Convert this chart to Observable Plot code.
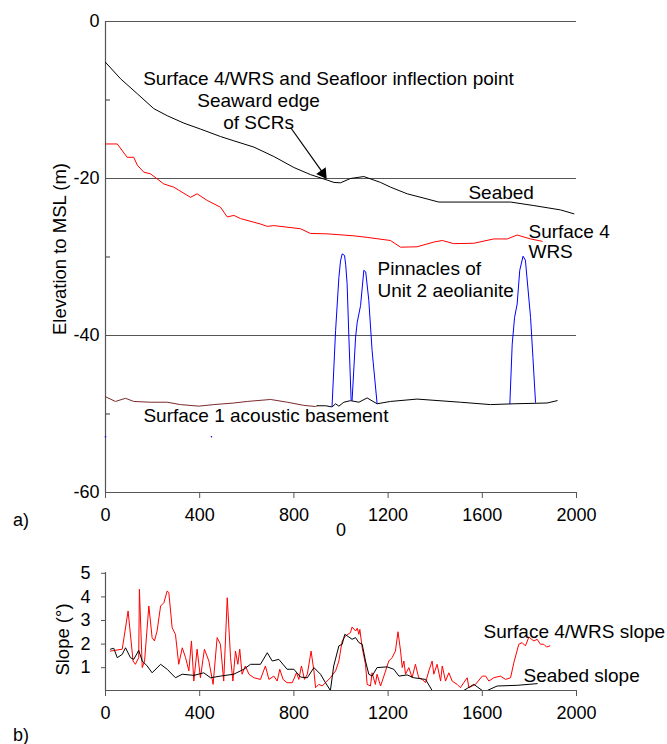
<!DOCTYPE html>
<html>
<head>
<meta charset="utf-8">
<script src="https://cdn.jsdelivr.net/npm/d3@7"></script>
<script src="https://cdn.jsdelivr.net/npm/@observablehq/plot@0.6"></script>
<style>
  body { margin: 0; background: #fff; }
  #wrap { position: relative; width: 667px; height: 744px; font-family: "Liberation Sans", Arial, sans-serif; }
  #wrap svg { display: block; position: absolute; left: 0; }
  .tag { position: absolute; left: 13px; font-size: 18px; line-height: 20px; color: #000; }
</style>
</head>
<body>
<div id="wrap"></div>
<script>
// ---------- Panel a: elevation profiles ----------
const xTicks = [0, 400, 800, 1200, 1600, 2000];
const yTicksA = [0, -20, -40, -60];
const yMinorA = [-10, -30, -50];
const gridA = [0, -20, -40, -60];

const seabedX = [0, 64, 135, 205, 262, 333, 403, 488, 545, 630, 715, 800, 870, 941, 970, 998, 1040, 1097, 1168, 1210, 1281, 1352, 1415, 1720, 1819, 1932, 1989];
const seabedY = [-5.2, -7.3, -9.2, -11.1, -12.0, -12.95, -13.7, -14.65, -15.2, -16.0, -17.2, -18.6, -19.5, -20.2, -20.5, -20.55, -20.0, -19.75, -20.5, -21.1, -21.95, -22.5, -23.0, -23.0, -23.45, -24.0, -24.5];

const surface4X = [0, 50, 92, 120, 135, 163, 191, 248, 290, 361, 389, 432, 488, 517, 545, 573, 658, 687, 715, 828, 870, 941, 1054, 1111, 1210, 1253, 1323, 1394, 1430, 1479, 1564, 1649, 1706, 1748, 1805, 1854];
const surface4Y = [-15.6, -15.6, -17.3, -17.3, -18.3, -19.2, -19.4, -20.7, -21.1, -22.4, -21.95, -22.8, -23.65, -24.9, -24.7, -25.1, -25.8, -26.1, -26.0, -26.4, -27.0, -27.05, -27.3, -27.5, -27.9, -28.75, -28.7, -28.1, -27.9, -28.3, -28.25, -27.7, -27.7, -27.2, -27.7, -28.0];

const basementWestX = [0, 42, 85, 120, 191, 262, 318, 396, 460, 545, 602, 701, 772, 842, 892, 899];
const basementWestY = [-47.8, -48.4, -48.0, -48.4, -48.5, -48.5, -48.8, -49.0, -48.8, -48.6, -48.4, -48.15, -48.5, -48.9, -49.05, -48.95];
const basementEastX = [899, 935, 962, 977, 991, 1012, 1040, 1076, 1111, 1153, 1210, 1323, 1507, 1635, 1734, 1875, 1918];
const basementEastY = [-48.95, -48.95, -49.1, -48.7, -49.0, -48.5, -48.3, -48.5, -47.95, -48.7, -48.4, -48.1, -48.5, -48.8, -48.7, -48.6, -48.3];

const pinnacle1X = [962, 977, 991, 998, 1005, 1015, 1020, 1026, 1033, 1043];
const pinnacle1Y = [-49.0, -39.4, -32.6, -30.5, -29.6, -29.8, -31.0, -33.4, -39.8, -48.2];
const pinnacle2X = [1047, 1062, 1069, 1083, 1097, 1105, 1118, 1132, 1153];
const pinnacle2Y = [-48.3, -40.2, -38.3, -36.2, -31.7, -31.9, -35.5, -41.9, -48.6];
const pinnacle3X = [1717, 1727, 1737, 1748, 1759, 1773, 1783, 1805, 1815, 1826];
const pinnacle3Y = [-48.7, -41.1, -37.7, -36.0, -31.7, -29.9, -30.4, -37.7, -42.8, -48.5];

const strayX = [0, 450];
const strayY = [-52.9, -52.9];

const labelsACentered = [
  {text: "Surface 4/WRS and Seafloor inflection point", x: 947, y: -7.26},
  {text: "Seaward edge", x: 650, y: -10.06},
  {text: "of SCRs", x: 650, y: -12.87}
];
const labelsAStart = [
  {text: "Seabed", x: 1541, y: -21.8},
  {text: "Surface 4", x: 1796, y: -26.75},
  {text: "WRS", x: 1796, y: -29.4},
  {text: "Pinnacles of", x: 1155, y: -31.5},
  {text: "Unit 2 aeolianite", x: 1155, y: -34.3},
  {text: "Surface 1 acoustic basement", x: 161, y: -50.2}
];
const arrowFrom = {x: 786, y: -13.5};
const arrowTo = {x: 926, y: -19.4};
const arrowHead = {x: 923, y: -19.35};

// ---------- Panel b: slopes ----------
const slopeTicks = [1, 2, 3, 4, 5];

const wrsSlopeX = [21,71,96,117,127,141,144,156,166,184,198,208,219,234,248,262,269,283,297,311,326,340,354,365,375,389,403,420,439,457,474,488,502,517,531,541,552,562,570,580,594,609,630,658,679,694,715,729,740,754,771,793,811,821,832,845,857,873,885,892,906,920,934,955,977,991,1005,1019,1040,1047,1062,1069,1076,1080,1090,1104,1111,1125,1132,1146,1153,1168,1182,1203,1217,1231,1242,1253,1260,1267,1274,1288,1302,1316,1330,1345,1359,1373,1387,1394,1408,1423,1430,1444,1458,1472,1493,1507,1521,1536,1543,1557,1571,1600,1614,1628,1649,1677,1699,1720,1734,1755,1769,1783,1798,1809,1819,1833,1847,1861,1873,1887];
const wrsSlopeV = [2.17,2.25,3.87,1.75,1.61,1.89,4.79,1.47,1.75,4.08,2.74,2.6,3.02,4.08,4.22,4.72,4.64,3.16,2.88,1.61,2.31,1.89,1.33,2.6,0.9,2.25,1.04,2.25,1.75,0.76,2.74,2.46,0.9,4.43,1.89,0.9,2.17,1.61,2.25,1.19,1.54,1.19,1.04,0.97,1.54,0.97,1.11,0.9,1.4,0.97,0.83,0.83,1.25,0.97,1.54,0.97,1.19,2.17,1.33,0.62,0.76,0.69,0.83,1.04,1.33,1.75,2.6,2.81,2.95,3.19,3.02,3.14,2.88,3.09,2.31,1.61,0.76,0.69,1.25,0.76,1.19,0.69,1.11,1.75,1.89,2.17,2.99,2.17,1.47,1.75,1.19,1.47,1.04,1.61,1.04,0.97,0.83,1.33,1.75,1.19,1.61,0.9,1.54,0.9,1.25,0.9,0.76,0.62,0.83,1.04,0.62,0.69,0.76,1.11,1.11,0.9,1.04,1.11,0.97,1.04,1.68,2.46,2.53,2.39,2.77,2.67,2.6,2.67,2.46,2.46,2.34,2.39];

const seabedSlopeX = [21,35,50,71,85,106,120,141,156,177,198,234,262,297,326,375,417,446,488,545,587,616,658,687,708,736,771,800,828,857,885,913,934,955,969,991,1005,1016,1033,1047,1062,1076,1090,1104,1118,1132,1153,1196,1224,1246,1281,1309,1359,1387,1521,1564,1600,1621,1663,1748,1833];
const seabedSlopeV = [2.25,2.29,1.89,2.03,2.31,1.89,1.82,2.2,1.75,1.54,1.25,1.61,1.4,1.04,1.19,1.14,1.25,1.04,1.11,1.19,1.4,1.61,1.61,2.1,1.75,1.82,1.4,1.4,1.07,1.04,1.47,1.19,0.83,0.5,1.54,2.39,2.46,2.88,2.77,2.67,2.74,2.53,2.46,1.75,1.19,1.11,1.47,1.5,1.4,1.11,1.16,1.04,0.97,0.5,0.5,0.76,0.5,0.5,0.69,0.72,0.79];

const labelsB = [
  {text: "Surface 4/WRS slope", x: 1605, y: 2.98},
  {text: "Seabed slope", x: 1775, y: 1.11}
];

// ---------- Drawing ----------
const FONT = '"Liberation Sans", Arial, sans-serif';
const AXIS = "#555";
const fmt = d => String(d);
const pts = (xs, ys) => xs.map((x, i) => ({x, y: ys[i]}));
const line = (xs, ys, stroke) => Plot.line(pts(xs, ys), {x: "x", y: "y", stroke, strokeWidth: 1});

const plotA = Plot.plot({
  width: 667, height: 550,
  marginLeft: 105, marginRight: 91, marginTop: 21, marginBottom: 58,
  style: {fontFamily: FONT, fontSize: "18px", color: "#000", background: "transparent", overflow: "visible"},
  x: {domain: [0, 2000]},
  y: {domain: [-60, 0]},
  marks: [
    Plot.ruleY(gridA, {stroke: AXIS, strokeWidth: 1.2}),
    Plot.ruleX([0], {stroke: AXIS, strokeWidth: 1.2}),
    Plot.axisX({ticks: xTicks, tickFormat: fmt, tickSize: 6, tickPadding: 10, stroke: AXIS, fill: "#000", fontSize: 18, label: null}),
    Plot.axisY({ticks: yTicksA, tickFormat: fmt, tickSize: 0, tickPadding: 6, fill: "#000", fontSize: 18, label: null}),
    Plot.tickY(yMinorA, {stroke: AXIS, strokeWidth: 1.2, insetRight: 466}),
    line(surface4X, surface4Y, "#ff0000"),
    line(seabedX, seabedY, "#000"),
    line(basementWestX, basementWestY, "#7a2a2a"),
    line(basementEastX, basementEastY, "#000"),
    line(pinnacle1X, pinnacle1Y, "#0000ff"),
    line(pinnacle2X, pinnacle2Y, "#0000ff"),
    line(pinnacle3X, pinnacle3Y, "#0000ff"),
    Plot.dot(pts(strayX, strayY), {x: "x", y: "y", r: 0.8, fill: "#0000ff", stroke: null}),
    Plot.link([{x1: arrowFrom.x, y1: arrowFrom.y, x2: arrowTo.x, y2: arrowTo.y}], {x1: "x1", y1: "y1", x2: "x2", y2: "y2", stroke: "#000", strokeWidth: 1.2}),
    Plot.dot([arrowHead], {x: "x", y: "y", symbol: "triangle", r: 4.3, fill: "#000", stroke: null, rotate: 145}),
    Plot.text(labelsACentered, {x: "x", y: "y", text: "text", textAnchor: "middle", fontSize: 19, fill: "#000"}),
    Plot.text(labelsAStart, {x: "x", y: "y", text: "text", textAnchor: "start", fontSize: 19, fill: "#000"}),
    Plot.text(["Elevation to MSL (m)"], {frameAnchor: "left", textAnchor: "middle", rotate: -90, dx: -45, dy: -8, fontSize: 18.5, fill: "#000"}),
    Plot.text(["0"], {frameAnchor: "bottom", textAnchor: "middle", dy: 43, fontSize: 18, fill: "#000"})
  ]
});
plotA.style.top = "0px";

const plotB = Plot.plot({
  width: 667, height: 194,
  marginLeft: 105, marginRight: 91, marginTop: 22, marginBottom: 54,
  style: {fontFamily: FONT, fontSize: "18px", color: "#000", background: "transparent", overflow: "visible"},
  x: {domain: [0, 2000]},
  y: {domain: [0.5, 5.5]},
  marks: [
    Plot.ruleX([0], {stroke: AXIS, strokeWidth: 1.2}),
    Plot.ruleY([0.5], {stroke: AXIS, strokeWidth: 1.2}),
    Plot.axisX({ticks: xTicks, tickFormat: fmt, tickSize: 6, tickPadding: 10, stroke: AXIS, fill: "#000", fontSize: 18, label: null}),
    Plot.axisY({ticks: slopeTicks, tickFormat: fmt, tickSize: 4, tickPadding: 11, dy: -11, stroke: AXIS, fill: "#000", fontSize: 18, label: null}),
    Plot.line(pts(wrsSlopeX, wrsSlopeV), {x: "x", y: "y", stroke: "#ff0000", strokeWidth: 1, clip: true}),
    Plot.line(pts(seabedSlopeX, seabedSlopeV), {x: "x", y: "y", stroke: "#000", strokeWidth: 1, clip: true}),
    Plot.text(labelsB, {x: "x", y: "y", text: "text", textAnchor: "start", fontSize: 19, fill: "#000"}),
    Plot.text(["Slope (°)"], {frameAnchor: "left", textAnchor: "middle", rotate: -90, dx: -42, dy: 8, fontSize: 18.5, fill: "#000"})
  ]
});
plotB.style.top = "550px";

const wrap = document.getElementById("wrap");
wrap.appendChild(plotA);
wrap.appendChild(plotB);
const tagA = document.createElement("div"); tagA.className = "tag"; tagA.style.top = "510px"; tagA.textContent = "a)";
const tagB = document.createElement("div"); tagB.className = "tag"; tagB.style.top = "725px"; tagB.textContent = "b)";
wrap.appendChild(tagA); wrap.appendChild(tagB);
</script>
</body>
</html>
